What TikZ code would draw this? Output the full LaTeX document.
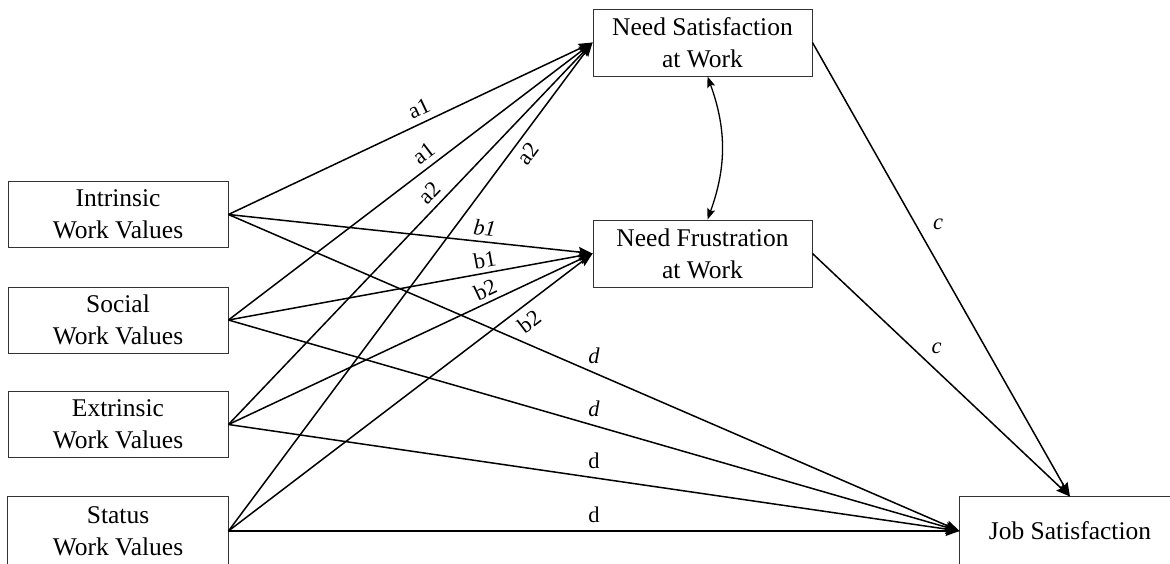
\documentclass[tikz,border=0pt]{standalone}
\usepackage{fontspec}
\setmainfont{Liberation Serif}
\usetikzlibrary{arrows.meta}
\begin{document}
\begin{tikzpicture}[x=1pt,y=-1pt,
  box/.style={draw=black!80, line width=0.9pt, minimum width=220pt, minimum height=66pt,
    inner sep=0pt, align=center, font=\fontsize{25.5}{32}\selectfont},
  edgebox/.style={draw=black!80, line width=0.9pt},
  conn/.style={line width=1.5pt, -{Stealth[length=14pt,width=10pt,inset=2pt]}},
  lab/.style={font=\fontsize{22.5}{25}\selectfont, inner sep=2pt},
]
\path[use as bounding box] (0,0) rectangle (1170,563);
\clip (0,0) rectangle (1170,563);
% left boxes
\node[box] (iwv) at (118,214.5) {Intrinsic\\Work Values};
\node[box] (swv) at (118,320) {Social\\Work Values};
\node[box] (ewv) at (118,424.5) {Extrinsic\\Work Values};
\node[box, draw=none, minimum height=68pt] (stwv) at (118,531) {Status\\Work Values};
\draw[edgebox] (stwv.south west) |- (stwv.north east) -- (stwv.south east);
% mediators
\node[box, minimum width=219pt, minimum height=67pt] (nsw) at (702.5,42.5) {Need Satisfaction\\at Work};
\node[box, minimum width=219pt, minimum height=67pt] (nfw) at (702.5,253.5) {Need Frustration\\at Work};
% outcome (cut by the picture's right and bottom edges)
\node[box, draw=none, minimum height=68pt] (js) at (1070,531) {Job Satisfaction};
\draw[edgebox] (js.south west) |- (js.north east);

% a paths
\draw[conn] (iwv.east) -- node[lab, sloped, above=4pt, pos=0.54] {a1} (nsw.west);
\draw[conn] (swv.east) -- node[lab, sloped, above=4pt, pos=0.56] {a1} (nsw.west);
\draw[conn] (ewv.east) -- node[lab, sloped, above=4pt, pos=0.58] {a2} (nsw.west);
\draw[conn] (stwv.east) -- node[lab, sloped, below=4pt, pos=0.79] {a2} (nsw.west);
% b paths
\draw[conn] (iwv.east) -- node[lab, sloped, above=3pt, pos=0.70] {\textit{b1}} (nfw.west);
\draw[conn] (swv.east) -- node[lab, sloped, above=2pt, pos=0.71] {b1} (nfw.west);
\draw[conn] (ewv.east) -- node[lab, sloped, above=2pt, pos=0.72] {b2} (nfw.west);
\draw[conn] (stwv.east) -- node[lab, sloped, below=5pt, pos=0.80] {b2} (nfw.west);
% d paths
\draw[conn] (iwv.east) -- node[lab, above=6pt, pos=0.5] {\textit{d}} (js.west);
\draw[conn] (swv.east) -- node[lab, above=6pt, pos=0.5] {\textit{d}} (js.west);
\draw[conn] (ewv.east) -- node[lab, above=6pt, pos=0.5] {d} (js.west);
\draw[conn] (stwv.east) -- node[lab, above=6pt, pos=0.5] {d} (js.west);
% c paths
\draw[conn] (nsw.east) -- node[lab, right=15pt, pos=0.4] {\textit{c}} (js.north);
\draw[conn] (nfw.east) -- node[lab, right=16pt, pos=0.39] {\textit{c}} (js.north);
% covariance
\draw[line width=1.3pt, {Stealth[length=11pt,width=8pt,inset=2pt]}-{Stealth[length=11pt,width=8pt,inset=2pt]}]
  ([xshift=5pt]nsw.south) to[bend left=20] ([xshift=5pt]nfw.north);
\end{tikzpicture}
\end{document}
